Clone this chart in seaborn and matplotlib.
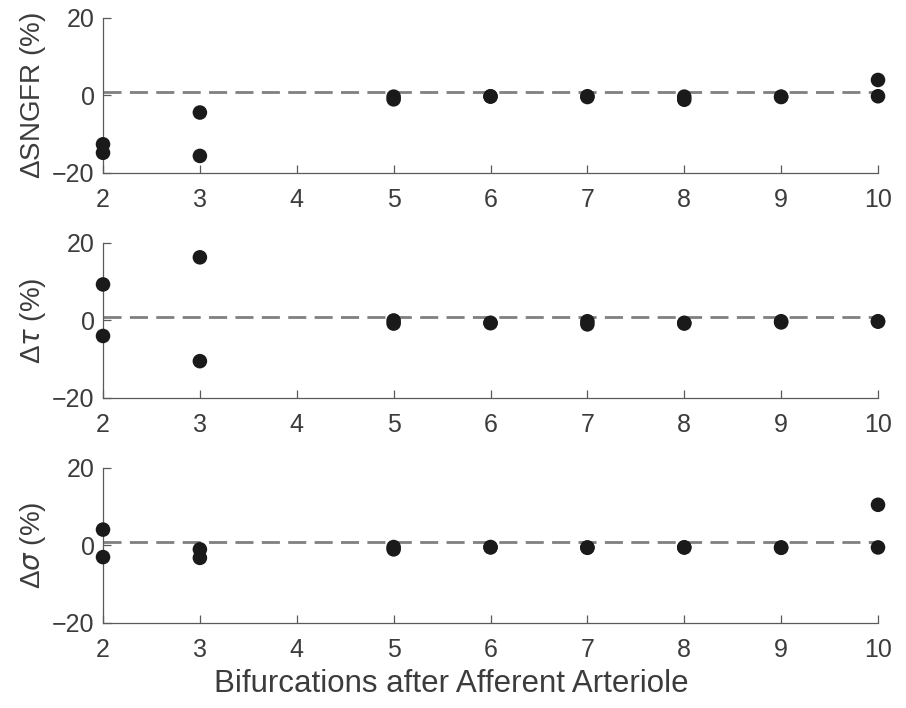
import pandas as pd
import matplotlib
matplotlib.use("Agg")
import matplotlib.pyplot as plt
import seaborn as sns

# Relative change of each quantity vs bifurcation number (two estimates per level)
bifurcations = [2, 2, 3, 3, 5, 5, 6, 6, 7, 7, 8, 8, 9, 9, 10, 10]
d_sngfr = [-12.6, -14.8, -4.4, -15.6, -0.3, -1.0, -0.2, -0.3,
           -0.2, -0.4, -0.3, -1.1, -0.3, -0.4, 4.0, -0.2]
d_tau = [9.3, -4.0, 16.3, -10.5, 0.0, -0.8, -0.6, -0.7,
         -0.2, -1.0, -0.6, -0.8, -0.2, -0.5, -0.2, -0.3]
d_sigma = [4.1, -3.0, -1.0, -3.2, -0.4, -1.0, -0.4, -0.5,
           -0.5, -0.6, -0.5, -0.5, -0.5, -0.6, 10.5, -0.5]
ref_level = 1.0

ylabels = [r'$\Delta$SNGFR (%)', r'$\Delta\tau$ (%)', r'$\Delta\sigma$ (%)']
xlabel = 'Bifurcations after Afferent Arteriole'
xticks = [2, 3, 4, 5, 6, 7, 8, 9, 10]
yticks = [-20, 0, 20]

df = pd.DataFrame({'Bifurcations': bifurcations,
                   'SNGFR': d_sngfr, 'tau': d_tau, 'sigma': d_sigma})
cols = ['SNGFR', 'tau', 'sigma']

txt = '#3c3c3c'
sns.set_style("ticks", {'axes.edgecolor': '#5a5a5a',
                        'xtick.color': '#5a5a5a',
                        'ytick.color': '#5a5a5a',
                        'text.color': txt,
                        'axes.labelcolor': txt})
plt.rcParams['font.family'] = ['Liberation Sans', 'DejaVu Sans']
plt.rcParams['mathtext.fontset'] = 'custom'
plt.rcParams['mathtext.rm'] = 'Liberation Sans'
plt.rcParams['mathtext.it'] = 'DejaVu Sans:italic'

fig = plt.figure(figsize=(9.06, 7.08), dpi=100)

left, width, height = 0.1137, 0.8554, 0.2189
bottoms = [0.7557, 0.4379, 0.1201]

for i, col in enumerate(cols):
    ax = fig.add_axes([left, bottoms[i], width, height])
    ax.axhline(ref_level, color='#808080', lw=2.0, dashes=(6.5, 3), zorder=1)
    sns.scatterplot(data=df, x='Bifurcations', y=col, ax=ax,
                    color='#1a1a1a', s=110, edgecolor='none',
                    zorder=3, clip_on=False, legend=False)
    ax.set_xlim(2, 10)
    ax.set_ylim(-20, 20)
    ax.set_xticks(xticks)
    ax.set_yticks(yticks)
    ax.set_yticklabels(['\u221220', '0', '20'])
    ax.tick_params(direction='in', length=6, width=0.9,
                   labelsize=18, labelcolor=txt)
    ax.tick_params(axis='x', pad=11)
    ax.tick_params(axis='y', pad=6)
    for side in ['top', 'right']:
        ax.spines[side].set_visible(False)
    for side in ['left', 'bottom']:
        ax.spines[side].set_linewidth(0.9)
    ax.set_ylabel(ylabels[i], fontsize=20, labelpad=3)
    if i == 2:
        ax.set_xlabel(xlabel, fontsize=22.5)
        # label sits a little left of the axis centre in the original
        ax.xaxis.set_label_coords(0.449, -0.30)
    else:
        ax.set_xlabel('')

fig.savefig('out.png', dpi=100)
